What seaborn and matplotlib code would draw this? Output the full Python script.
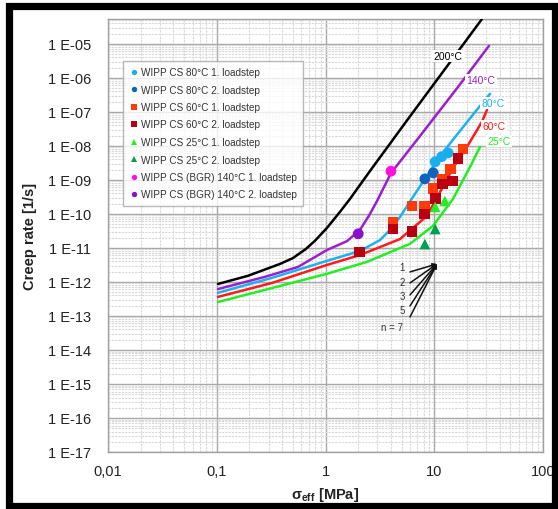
import numpy as np
import pandas as pd
import matplotlib
matplotlib.use("Agg")
import matplotlib.pyplot as plt
import seaborn as sns
from matplotlib.ticker import LogLocator, FuncFormatter, NullFormatter
from matplotlib.patches import Rectangle

sns.set_style("white")
plt.rcParams['font.family'] = ['Liberation Sans', 'DejaVu Sans']

# ---------------- model curves (log10 of stress [MPa], log10 of creep rate [1/s]) ----
c200_lx = [-0.989, -0.713, -0.418, -0.300, -0.180, -0.097, 0.014, 0.133, 0.225, 0.409, 0.759, 1.099, 1.439]
c200_ly = [-12.06, -11.82, -11.47, -11.30, -11.03, -10.79, -10.41, -9.94, -9.56, -8.74, -7.21, -5.74, -4.27]
c140_lx = [-0.989, -0.556, -0.253, 0.014, 0.198, 0.317, 0.400, 0.474, 0.602, 0.869, 1.218, 1.503]
c140_ly = [-12.21, -11.85, -11.56, -11.06, -10.80, -10.47, -10.05, -9.62, -8.80, -7.71, -6.27, -5.06]
c80_lx = [-0.989, -0.492, 0.014, 0.317, 0.501, 0.593, 0.685, 0.805, 0.961, 1.08, 1.384, 1.513]
c80_ly = [-12.32, -11.88, -11.38, -11.09, -10.77, -10.47, -10.09, -9.50, -8.74, -8.19, -6.97, -6.47]
c60_lx = [-0.989, -0.492, 0.014, 0.317, 0.685, 0.933, 1.053, 1.172, 1.301, 1.439, 1.485]
c60_ly = [-12.44, -12.03, -11.50, -11.21, -10.74, -10.06, -9.36, -8.65, -8.03, -7.29, -6.94]
c25_lx = [-0.989, -0.492, 0.014, 0.382, 0.777, 0.989, 1.172, 1.329, 1.421]
c25_ly = [-12.59, -12.18, -11.76, -11.41, -10.88, -10.35, -9.56, -8.62, -8.03]

curve_names = ["200°C", "140°C", "80°C", "60°C", "25°C"]
curve_colors = ["#000000", "#9B1FD0", "#1AB2F0", "#FF1A1A", "#22EE22"]

# ---------------- measurements -------------------------------------------------------
p80_1_x = [10.2, 11.7, 13.4]
p80_1_y = [3.4e-9, 4.8e-9, 6.2e-9]
p80_2_x = [8.2, 9.8]
p80_2_y = [1.07e-9, 1.6e-9]
p60_1_x = [4.18, 6.24, 8.2, 9.75, 12.0, 14.0, 18.4]
p60_1_y = [5.8e-11, 1.7e-10, 1.7e-10, 5.5e-10, 1.07e-9, 2.1e-9, 8.1e-9]
p60_2_x = [2.07, 4.18, 6.24, 8.2, 10.2, 12.0, 14.6, 16.5]
p60_2_y = [7.6e-12, 3.6e-11, 3.0e-11, 1.0e-10, 2.8e-10, 7.6e-10, 9.3e-10, 4.2e-9]
p25_1_x = [10.2, 12.5]
p25_1_y = [1.6e-10, 2.4e-10]
p25_2_x = [8.2, 10.2]
p25_2_y = [1.3e-11, 3.6e-11]
p140_1_x = [4.0]
p140_1_y = [1.8e-9]
p140_2_x = [2.0]
p140_2_y = [2.6e-11]

series_labels = ["WIPP CS 80°C 1. loadstep", "WIPP CS 80°C 2. loadstep",
                 "WIPP CS 60°C 1. loadstep", "WIPP CS 60°C 2. loadstep",
                 "WIPP CS 25°C 1. loadstep", "WIPP CS 25°C 2. loadstep",
                 "WIPP CS (BGR) 140°C 1. loadstep", "WIPP CS (BGR) 140°C 2. loadstep"]
series_x = [p80_1_x, p80_2_x, p60_1_x, p60_2_x, p25_1_x, p25_2_x, p140_1_x, p140_2_x]
series_y = [p80_1_y, p80_2_y, p60_1_y, p60_2_y, p25_1_y, p25_2_y, p140_1_y, p140_2_y]
series_colors = ["#1AAEF0", "#0A64C0", "#FF3A0A", "#B80010", "#22EE22", "#00A050",
                 "#FF10E0", "#8A10C8"]
series_markers = ["o", "o", "s", "s", "^", "^", "o", "o"]

slope_labels = ["1", "2", "3", "5", "n = 7"]

# ---------------- figure ---------------------------------------------------------------
W, H = 558, 510
fig = plt.figure(figsize=(W / 100, H / 100), dpi=100)
ax = fig.add_axes([108 / W, 1 - 453 / H, 435 / W, 433 / H])

curves = pd.concat([
    pd.DataFrame({"x": 10.0 ** np.array(lx), "y": 10.0 ** np.array(ly), "curve": n})
    for lx, ly, n in zip([c200_lx, c140_lx, c80_lx, c60_lx, c25_lx],
                         [c200_ly, c140_ly, c80_ly, c60_ly, c25_ly], curve_names)
])
sns.lineplot(data=curves, x="x", y="y", hue="curve", palette=dict(zip(curve_names, curve_colors)),
             estimator=None, sort=False, lw=1.8, legend=False, ax=ax, zorder=3)
for l in ax.get_lines():
    l.set_solid_joinstyle("round")

pts = pd.concat([
    pd.DataFrame({"x": sx, "y": sy, "series": lab})
    for sx, sy, lab in zip(series_x, series_y, series_labels)
])
sns.scatterplot(data=pts, x="x", y="y", hue="series", style="series",
                palette=dict(zip(series_labels, series_colors)),
                markers=dict(zip(series_labels, series_markers)),
                s=60, edgecolor="none", linewidth=0, ax=ax, zorder=4)

ax.set_xscale("log")
ax.set_yscale("log")
ax.set_xlim(0.01, 100)
ax.set_ylim(1e-17, 10 ** -4.27)

ax.xaxis.set_major_locator(LogLocator(base=10, numticks=10))
ax.xaxis.set_minor_locator(LogLocator(base=10, subs=np.arange(2, 10), numticks=50))
ax.yaxis.set_major_locator(LogLocator(base=10, numticks=30))
ax.yaxis.set_minor_locator(LogLocator(base=10, subs=np.arange(2, 10), numticks=200))
ax.xaxis.set_major_formatter(FuncFormatter(lambda v, p: ("%g" % v).replace(".", ",")))
ax.yaxis.set_major_formatter(FuncFormatter(lambda v, p: "1 E-%02d" % round(-np.log10(v))))
ax.xaxis.set_minor_formatter(NullFormatter())
ax.yaxis.set_minor_formatter(NullFormatter())

ax.grid(which="major", color="#A8A8A8", lw=1.0, zorder=0)
ax.grid(which="minor", color="#D8D8D8", lw=0.8, ls=(0, (2, 1)), zorder=0)
ax.set_axisbelow(True)
for s in ax.spines.values():
    s.set_color("#A0A0A0")
    s.set_linewidth(1.0)
ax.tick_params(axis="y", which="major", direction="out", length=6, color="#A0A0A0",
               labelsize=10.5, labelcolor="#222222", pad=6)
ax.tick_params(axis="y", which="minor", length=0)
ax.tick_params(axis="x", which="major", direction="in", length=5, color="#A0A0A0",
               labelsize=10.5, labelcolor="#222222", pad=9)
ax.tick_params(axis="x", which="minor", direction="in", length=3, color="#A0A0A0")

ax.set_ylabel("Creep rate [1/s]", fontsize=10.5, fontweight="bold", color="#222222", labelpad=8)
ax.set_xlabel("σ$_{\\mathregular{eff}}$ [MPa]", fontsize=10.5, fontweight="bold",
              color="#222222", labelpad=5)

leg = ax.legend(loc="upper left", bbox_to_anchor=(15 / 435, (453 - 62) / 433), borderaxespad=0,
                fontsize=7.2, frameon=True, fancybox=False, markerscale=0.5,
                handletextpad=0.2, labelspacing=0.75, borderpad=0.6, handlelength=1.0)
leg.get_frame().set_edgecolor("#A8A8A8")
leg.get_frame().set_linewidth(1.0)
for t in leg.get_texts():
    t.set_color("#333333")


def px2data(px, py):
    return 10 ** (-2 + (px - 108) / 108.75), 10 ** (-17 + (453 - py) / 34.0)


label_px = [(448, 57), (481, 81), (493, 104), (494, 127), (499, 142)]
for name, col, (px, py) in zip(curve_names, curve_colors, label_px):
    x, y = px2data(px, py)
    ax.text(x, y, name, color=col, fontsize=7.5, ha="center", va="center", zorder=5,
            bbox=dict(facecolor="white", edgecolor="none", pad=0.8))

tip = px2data(437, 265)
slope_px = [(402, 268), (402, 283), (402, 297), (402, 311), (392, 328)]
start_px = [(410, 273), (410, 284), (410, 296), (410, 307), (410, 318)]
for lab, (px, py), (sx, sy) in zip(slope_labels, slope_px, start_px):
    ax.text(*px2data(px, py), lab, fontsize=7, color="#333333", ha="center", va="center",
            zorder=5)
    ax.annotate("", xy=tip, xytext=px2data(sx, sy),
                arrowprops=dict(arrowstyle="-|>", color="#111111", lw=1.1,
                                mutation_scale=6, shrinkA=0, shrinkB=0), zorder=5)

fig.patches.append(Rectangle((9 / W, 3.5 / H), (555 - 9) / W, (503.5 - 3.5) / H,
                             transform=fig.transFigure, fill=False, edgecolor="black",
                             linewidth=5.2, zorder=10))
fig.savefig("out.png", dpi=100)
